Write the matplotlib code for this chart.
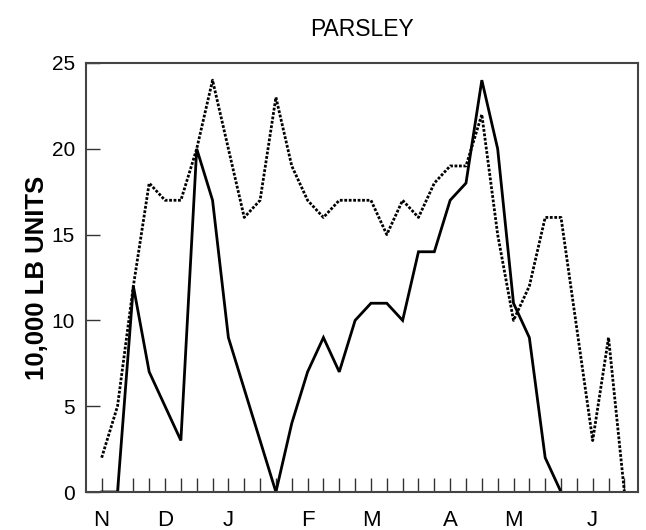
import matplotlib
matplotlib.use("Agg")
import matplotlib.pyplot as plt

plt.rcParams['font.family'] = ['Liberation Sans', 'DejaVu Sans']

title = "PARSLEY"
ylabel = "10,000 LB UNITS"

# weekly points, index 0..33
solid = [0, 0, 12, 7, 5, 3, 20, 17, 9, 6, 3, 0, 4, 7, 9, 7, 10, 11, 11, 10,
         14, 14, 17, 18, 24, 20, 11, 9, 2, 0]
dotted = [2, 5, 12, 18, 17, 17, 20, 24, 20, 16, 17, 23, 19, 17, 16, 17, 17, 17,
          15, 17, 16, 18, 19, 19, 22, 15, 10, 12, 16, 16, 9.5, 3, 9, 0]

month_labels = ["N", "D", "J", "F", "M", "A", "M", "J"]
month_pos = [0, 4, 8, 13, 17, 22, 26, 31]
yticks = [0, 5, 10, 15, 20, 25]

fig = plt.figure(figsize=(6.46, 5.30), dpi=100)
ax = fig.add_axes([86/646, 1-492/530, (638-86)/646, (492-63)/530])

ax.plot(range(len(solid)), solid, color='black', lw=2.0, solid_joinstyle='miter')
ax.plot(range(len(dotted)), dotted, color='black', lw=2.0, linestyle=(0, (1, 0.6)))

ax.set_xlim(-0.99, 33.86)
ax.set_ylim(0, 25)

n = len(dotted)
ax.set_xticks(range(n))
labels = [''] * n
for p, l in zip(month_pos, month_labels):
    labels[p] = l
ax.set_xticklabels(labels, fontsize=16)
ax.set_yticks(yticks)
ax.set_yticklabels([str(v) for v in yticks], fontsize=15)

ax.tick_params(axis='x', direction='in', length=10, width=1, color='#333333', pad=13)
ax.tick_params(axis='y', direction='in', length=10, width=1, color='#333333', pad=8)

for s in ax.spines.values():
    s.set_color('#444444')
    s.set_linewidth(1.5)

ax.set_ylabel(ylabel, fontsize=18.5, fontweight='bold', labelpad=2)
fig.text((86+638)/2/646, 1-29/530, title, ha='center', va='center', fontsize=16.5)

fig.savefig("out.png", dpi=100)
